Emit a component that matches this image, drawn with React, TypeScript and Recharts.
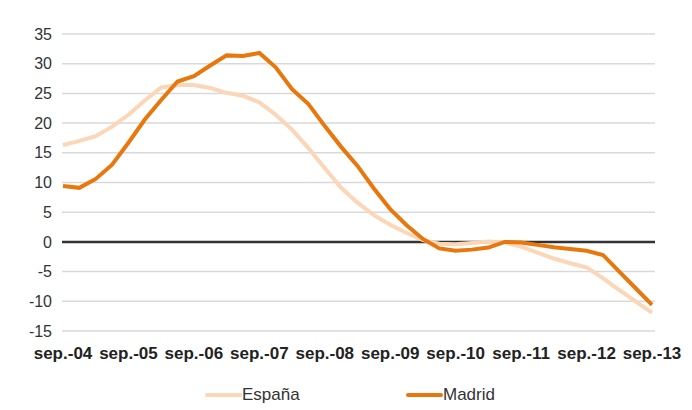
import {
  LineChart,
  Line,
  XAxis,
  YAxis,
  CartesianGrid,
  ReferenceLine,
  Legend,
} from "recharts";

const quarters = [
  "sep.-04", "dic.-04", "mar.-05", "jun.-05",
  "sep.-05", "dic.-05", "mar.-06", "jun.-06",
  "sep.-06", "dic.-06", "mar.-07", "jun.-07",
  "sep.-07", "dic.-07", "mar.-08", "jun.-08",
  "sep.-08", "dic.-08", "mar.-09", "jun.-09",
  "sep.-09", "dic.-09", "mar.-10", "jun.-10",
  "sep.-10", "dic.-10", "mar.-11", "jun.-11",
  "sep.-11", "dic.-11", "mar.-12", "jun.-12",
  "sep.-12", "dic.-12", "mar.-13", "jun.-13",
  "sep.-13",
];

const espana = [
  16.3, 17.0, 17.8, 19.4, 21.4, 23.8, 26.0, 26.4, 26.4, 25.9,
  25.1, 24.6, 23.5, 21.4, 18.9, 15.8, 12.4, 9.1, 6.6, 4.5,
  2.9, 1.5, 0.3, -0.3, -0.4, -0.2, 0.05, -0.1, -0.8, -1.8,
  -2.8, -3.6, -4.3, -6.1, -8.1, -10.0, -11.9,
];

const madrid = [
  9.4, 9.1, 10.6, 13.0, 16.7, 20.6, 23.9, 27.0, 27.9, 29.7,
  31.4, 31.3, 31.8, 29.4, 25.7, 23.2, 19.5, 16.0, 12.8, 9.0,
  5.5, 2.8, 0.5, -1.1, -1.5, -1.3, -0.95, 0.0, -0.1, -0.5,
  -0.9, -1.2, -1.5, -2.2, -5.0, -7.8, -10.6,
];

const yTicks = [-15, -10, -5, 0, 5, 10, 15, 20, 25, 30, 35];

const ESPANA_COLOR = "#fbd6b7";
const MADRID_COLOR = "#e8780e";
const FONT = "Liberation Sans, Arial, sans-serif";

const data = quarters.map((q, i) => ({
  quarter: q,
  espana: espana[i],
  madrid: madrid[i],
}));

// legend items sit at fixed spots like in the original report figure
function ChartLegend({ payload }: { payload?: any[] }) {
  return (
    <div style={{ display: "flex", justifyContent: "center", paddingLeft: 50, paddingTop: 6, fontFamily: FONT, fontSize: 17, color: "#333" }}>
      {(payload ?? []).map((p, i) => (
        <div key={p.value} style={{ display: "flex", alignItems: "center", width: i === 0 ? 201 : 94 }}>
          <span style={{ display: "inline-block", width: 37, height: 4, borderRadius: 2, background: p.color }} />
          <span>{p.value}</span>
        </div>
      ))}
    </div>
  );
}

export default function App() {
  return (
    <div style={{ position: "absolute", left: 0, top: 0, width: 692, height: 410, background: "#fff" }}>
      <LineChart
        width={692}
        height={410}
        data={data}
        margin={{ top: 34, right: 37, bottom: 0, left: 0 }}
      >
        <CartesianGrid vertical={false} stroke="#d9d9d9" strokeWidth={1.5} />
        <XAxis
          dataKey="quarter"
          interval={3}
          axisLine={false}
          tickLine={false}
          tickSize={0}
          tickMargin={16}
          height={48}
          padding={{ left: 1, right: 3 }}
          tick={{ fontSize: 17, fontWeight: "bold", fill: "#222", fontFamily: FONT }}
        />
        <YAxis
          domain={[-15, 35]}
          ticks={yTicks}
          axisLine={false}
          tickLine={false}
          tickSize={0}
          tickMargin={10}
          width={62}
          tick={{ fontSize: 16, fill: "#333", fontFamily: FONT }}
        />
        <ReferenceLine y={0} stroke="#333" strokeWidth={2.5} />
        <Line
          type="linear"
          dataKey="espana"
          name="España"
          stroke={ESPANA_COLOR}
          strokeWidth={4}
          dot={false}
          isAnimationActive={false}
        />
        <Line
          type="linear"
          dataKey="madrid"
          name="Madrid"
          stroke={MADRID_COLOR}
          strokeWidth={4}
          dot={false}
          isAnimationActive={false}
        />
        <Legend verticalAlign="bottom" height={31} content={<ChartLegend />} />
      </LineChart>
    </div>
  );
}
